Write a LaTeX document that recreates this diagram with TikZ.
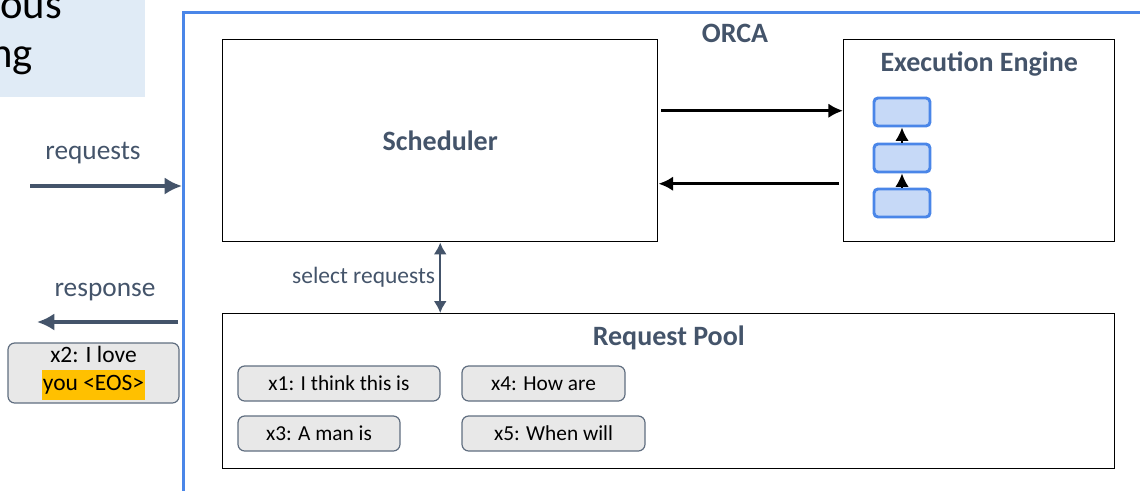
\documentclass[tikz,border=0pt]{standalone}
\usepackage{fontspec}
\setmainfont{Carlito}
\usetikzlibrary{arrows.meta,positioning}

\newdimen\px \px=0.75pt
\definecolor{slate}{HTML}{44546A}
\definecolor{orcablue}{HTML}{4A86E8}
\definecolor{layerfill}{HTML}{C6D9F7}
\definecolor{boxgray}{HTML}{E8E8E8}
\definecolor{slidebg}{HTML}{E0EBF6}
\definecolor{eosyellow}{HTML}{FFC000}

\begin{document}
\begin{tikzpicture}[x=0.75pt,y=-0.75pt,
    block/.style={draw=black, line width=1.1pt, inner sep=0pt, anchor=north west},
    title/.style={text=slate, font=\fontsize{21}{25}\selectfont\bfseries},
    lbl/.style={text=slate, font=\fontsize{20.5}{24}\selectfont},
    reqbox/.style={draw=slate!85, fill=boxgray, rounded corners=5pt, line width=0.9pt,
        inner sep=0pt, minimum height=35\px, font=\fontsize{16}{19}\selectfont},
    layer/.style={draw=orcablue, fill=layerfill, rounded corners=3pt, line width=2.2pt,
        minimum width=56\px, minimum height=28\px, inner sep=0pt},
    flow/.style={->, line width=2.6pt, >={Latex[length=11pt,width=11pt]}},
    io/.style={->, draw=slate, line width=3.4pt, >={Latex[length=13pt,width=13pt]}}]
                \useasboundingbox (0,0) rectangle (1140,490);
                \clip (0,0) rectangle (1140,490);

                % slide title, cut off
                \node[fill=slidebg, inner sep=0pt, minimum width=145\px, minimum height=97\px,
                    anchor=north west] (titlebg) at (0,0) {};
                \node[anchor=base east, inner sep=0pt, font=\fontsize{32}{38}\selectfont] (ttop) at (62,18) {ous};
                \node[anchor=base east, inner sep=0pt, font=\fontsize{32}{38}\selectfont] (tbot) at (33,67) {ng};

                % ORCA frame
                \node[draw=orcablue, line width=2.2pt, inner sep=0pt, anchor=north west,
                    minimum width=1000\px, minimum height=520\px] (orca) at (182,11) {};
                \node[title] (orcatitle) at (735,33) {ORCA};

                \node[block, minimum width=435\px, minimum height=202\px,
                    font=\fontsize{21}{25}\selectfont\bfseries, text=slate] (sched) at (222,39) {Scheduler};
                \node[block, minimum width=271\px, minimum height=202\px] (ee) at (843,39) {};
                \node[title] (eetitle) at ([yshift=-25\px]ee.north) {Execution Engine};

                \node[layer] (l1) at (902,112) {};
                \node[layer] (l2) at (902,158) {};
                \node[layer] (l3) at (902,203) {};
                \draw[->, line width=1.4pt, >={Latex[length=10pt,width=10pt]}] (l3) -- (l2);
                \draw[->, line width=1.4pt, >={Latex[length=10pt,width=10pt]}] (l2) -- (l1);

                \draw[flow] ([xshift=3\px,yshift=30\px]sched.east) -- ([yshift=30\px]ee.west);
                \draw[flow] ([xshift=-4\px,yshift=-43\px]ee.west) -- ([yshift=-43\px]sched.east);

                % pool
                \node[block, minimum width=892\px, minimum height=155\px] (pool) at (222,313) {};
                \node[title] (pooltitle) at ([yshift=-25\px]pool.north) {Request Pool};
                \node[reqbox, minimum width=202\px] (x1) at (339,383.5) {x1: I think this is};
                \node[reqbox, minimum width=163\px] (x4) at (543.5,383.5) {x4: How are};
                \node[reqbox, minimum width=162\px] (x3) at (319,433.5) {x3: A man is};
                \node[reqbox, minimum width=183\px] (x5) at (553.5,433.5) {x5: When will};

                \draw[{Latex[length=9pt,width=10pt]}-{Latex[length=9pt,width=10pt]}, draw=slate, fill=slate,
                    line width=1.8pt] (sched.south) -- (sched.south |- pool.north)
                    node[midway, left, lbl, font=\fontsize{17.6}{21}\selectfont, inner sep=3pt] {select requests};

                % in / out
                \coordinate (reqin) at (30,186);
                \draw[io] (reqin) -- (reqin -| orca.west);
                \node[lbl] (reqlbl) at (93,153) {requests};

                \coordinate (respout) at (37,322);
                \draw[io] ([xshift=-4\px]respout -| orca.west) -- (respout);
                \node[lbl] (resplbl) at (105,292) {response};

                \node[reqbox, minimum width=171\px, minimum height=60\px, align=center,
                    font=\fontsize{17.6}{21}\selectfont] (x2) at (93.5,373)
                    {x2: I love\\{\setlength\fboxsep{0.8pt}\colorbox{eosyellow}{\strut you <EOS>}}};
            \end{tikzpicture}
\end{document}
